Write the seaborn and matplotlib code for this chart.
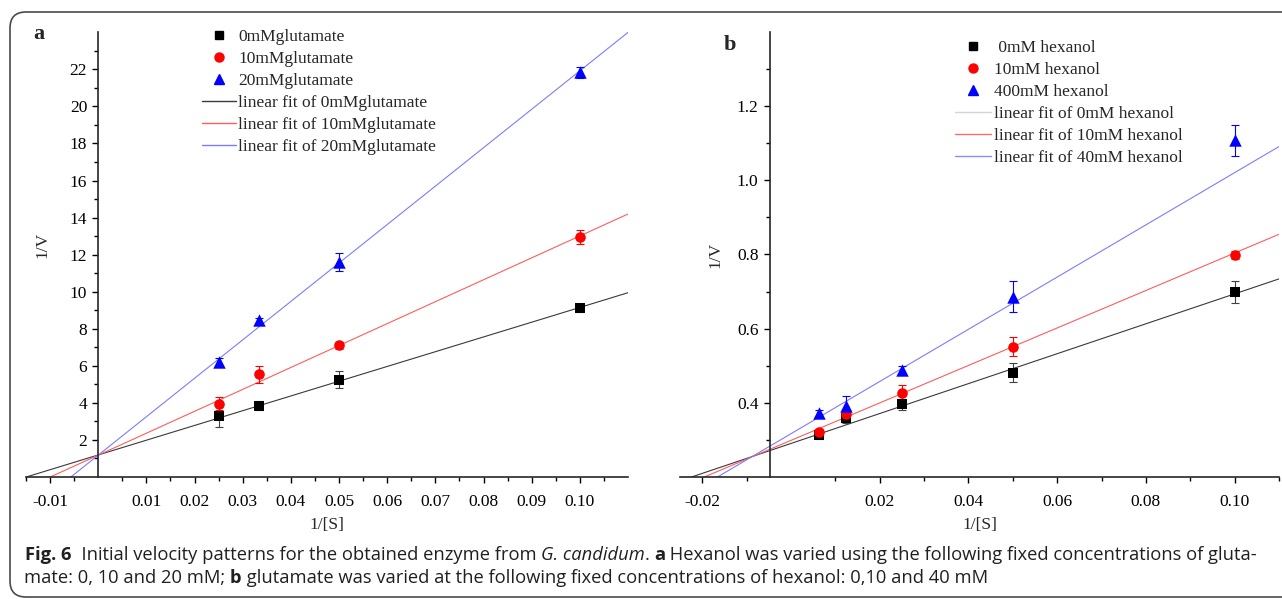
import numpy as np
import pandas as pd
import matplotlib
matplotlib.use("Agg")
import matplotlib.pyplot as plt
import seaborn as sns
from matplotlib.lines import Line2D
from matplotlib.patches import FancyBboxPatch
from matplotlib.transforms import IdentityTransform
from matplotlib.ticker import FixedLocator, FormatStrFormatter

# ---- data, panel a (glutamate fixed) ----
s_a = [0.025, 0.0333, 0.05, 0.10]
glu_names = ["0mMglutamate", "10mMglutamate", "20mMglutamate"]
glu_v = [[3.3, 3.85, 5.25, 9.1],
         [3.95, 5.55, 7.1, 12.95],
         [6.2, 8.45, 11.6, 21.85]]
glu_err = [[0.6, 0.25, 0.45, 0.2],
           [0.35, 0.45, 0.2, 0.4],
           [0.2, 0.15, 0.5, 0.3]]
glu_slope = [79.6, 118.3, 207.4]
glu_icpt = [1.19, 1.18, 1.18]
glu_fit_names = ["linear fit of 0mMglutamate", "linear fit of 10mMglutamate",
                 "linear fit of 20mMglutamate"]

# ---- data, panel b (hexanol fixed) ----
s_b = [0.00625, 0.0125, 0.025, 0.05, 0.10]
hex_names = [" 0mM hexanol", "10mM hexanol", "400mM hexanol"]
hex_v = [[0.313, 0.358, 0.396, 0.481, 0.699],
         [0.322, 0.369, 0.425, 0.551, 0.799],
         [0.371, 0.392, 0.488, 0.686, 1.108]]
hex_err = [[0.01, 0.012, 0.015, 0.025, 0.03],
           [0.008, 0.01, 0.022, 0.026, 0.01],
           [0.01, 0.025, 0.012, 0.042, 0.043]]
hex_slope = [4.04, 5.06, 7.05]
hex_icpt = [0.2897, 0.298, 0.316]
hex_fit_names = ["linear fit of 0mM hexanol", "linear fit of 10mM hexanol",
                 "linear fit of 40mM hexanol"]

a_xmajor = [-0.01, 0.01, 0.02, 0.03, 0.04, 0.05, 0.06, 0.07, 0.08, 0.09, 0.10]
a_ymajor = [2, 4, 6, 8, 10, 12, 14, 16, 18, 20, 22]
b_xmajor = [-0.02, 0.02, 0.04, 0.06, 0.08, 0.10]
b_ymajor = [0.4, 0.6, 0.8, 1.0, 1.2]

caption1 = [("Fig. 6", "bold", "normal"),
            ("  Initial velocity patterns for the obtained enzyme from ", "normal", "normal"),
            ("G. candidum", "normal", "italic"),
            (". ", "normal", "normal"),
            ("a", "bold", "normal"),
            (" Hexanol was varied using the following fixed concentrations of gluta-", "normal", "normal")]
caption2 = [("mate: 0, 10 and 20 mM; ", "normal", "normal"),
            ("b", "bold", "normal"),
            (" glutamate was varied at the following fixed concentrations of hexanol: 0,10 and 40 mM",
             "normal", "normal")]

# ---- styles ----
markers = ["s", "o", "^"]
msize = [55, 58, 80]
colors = ["black", "red", "blue"]
err_colors = ["#404040", "red", "blue"]
fit_colors = ["#3a3a3a", "#ff5c5c", "#7c7cff"]

sns.set_theme(style="ticks")
plt.rcParams["font.family"] = ["Liberation Serif", "DejaVu Serif"]
plt.rcParams["axes.linewidth"] = 1.2
FS = 12.5

W, H = 1282, 599
fig = plt.figure(figsize=(W / 100, H / 100), dpi=100)
ax_a = fig.add_axes([26 / W, 1 - 477 / H, 602 / W, 444.7 / H])
ax_b = fig.add_axes([680 / W, 1 - 476.7 / H, 599 / W, 444.4 / H])


def draw_panel(ax, xs, ys, errs, slopes, icpts, xlim, ylim):
    ax.set_xlim(xlim)
    ax.set_ylim(ylim)
    xx = np.linspace(xlim[0], xlim[1], 300)
    for i in range(3):
        ax.plot(xx, icpts[i] + slopes[i] * xx, color=fit_colors[i], lw=0.8, zorder=1)
    for i in range(3):
        ax.errorbar(xs, ys[i], yerr=errs[i], fmt="none", ecolor=err_colors[i],
                    elinewidth=0.8, capsize=3, capthick=0.8, zorder=2)
        df = pd.DataFrame({"x": xs, "y": ys[i]})
        sns.scatterplot(data=df, x="x", y="y", marker=markers[i], color=colors[i],
                        s=msize[i], linewidth=0, zorder=3, ax=ax, legend=False)
    ax.set_xlim(xlim)
    ax.set_ylim(ylim)
    ax.spines[["top", "right"]].set_visible(False)
    ax.tick_params(which="both", direction="out", width=1, colors="black", labelsize=FS)
    ax.tick_params(which="major", length=4.5)
    ax.tick_params(which="minor", length=3)
    ax.tick_params(axis="x", which="major", pad=8)
    ax.tick_params(axis="y", which="major", pad=3.5)
    ax.set_xlabel("1/[S]", fontsize=FS)
    ax.set_ylabel("1/V", fontsize=FS)


# panel a
draw_panel(ax_a, s_a, glu_v, glu_err, glu_slope, glu_icpt, (-0.015, 0.110), (0, 24))
ax_a.spines["left"].set_position(("data", 0))
ax_a.xaxis.set_major_locator(FixedLocator(a_xmajor))
ax_a.xaxis.set_minor_locator(FixedLocator(np.arange(-0.015, 0.11, 0.01)))
ax_a.xaxis.set_major_formatter(FormatStrFormatter("%.2f"))
ax_a.yaxis.set_major_locator(FixedLocator(a_ymajor))
ax_a.yaxis.set_minor_locator(FixedLocator(np.arange(1, 24, 2)))
ax_a.yaxis.set_major_formatter(FormatStrFormatter("%d"))
ax_a.yaxis.set_label_coords(0.040, 0.522)
ax_a.xaxis.set_label_coords(0.5, -0.09)

# panel b
draw_panel(ax_b, s_b, hex_v, hex_err, hex_slope, hex_icpt, (-0.025, 0.110), (0.2, 1.4))
ax_b.spines["left"].set_position(("data", -0.0048))
ax_b.xaxis.set_major_locator(FixedLocator(b_xmajor))
ax_b.xaxis.set_minor_locator(FixedLocator(np.arange(-0.01, 0.115, 0.02)))
ax_b.xaxis.set_major_formatter(FormatStrFormatter("%.2f"))
ax_b.yaxis.set_major_locator(FixedLocator(b_ymajor))
ax_b.yaxis.set_minor_locator(FixedLocator(np.arange(0.3, 1.35, 0.2)))
ax_b.yaxis.set_major_formatter(FormatStrFormatter("%.1f"))
ax_b.yaxis.set_label_coords(0.072, 0.5)
ax_b.xaxis.set_label_coords(0.5, -0.09)


def make_legend(ax, names, fit_names, line_cols, anchor, hl):
    handles = [Line2D([], [], marker=markers[i], linestyle="none", color=colors[i],
                      markersize=[6, 6.5, 7.5][i]) for i in range(3)]
    handles += [Line2D([], [], color=line_cols[i], lw=1.0) for i in range(3)]
    ax.legend(handles, names + fit_names, loc="upper left", bbox_to_anchor=anchor,
              bbox_transform=fig.transFigure, frameon=False, borderpad=0,
              borderaxespad=0, handlelength=hl, handletextpad=0.15,
              labelspacing=0.34, fontsize=FS)


make_legend(ax_a, glu_names, glu_fit_names, fit_colors,
            (202 / W, 1 - 29 / H), 1.95)
make_legend(ax_b, hex_names, hex_fit_names, ["#d4d4d4", "#ff6b6b", "#8a8aff"],
            (955 / W, 1 - 40 / H), 2.1)

# panel letters
fig.text(33 / W, 1 - 39 / H, "a", fontsize=16, fontweight="bold", va="baseline")
fig.text(724 / W, 1 - 50 / H, "b", fontsize=16, fontweight="bold", va="baseline")

# rounded frame around the figure
frame = FancyBboxPatch((10, 2), 1330, 585, boxstyle="round,pad=0,rounding_size=16",
                       transform=IdentityTransform(), facecolor="none",
                       edgecolor="#4a4a4a", lw=1.2)
fig.add_artist(frame)

# caption with mixed styles
renderer = fig.canvas.get_renderer()
cap_font = ["Open Sans", "DejaVu Sans"]


def text_w(s, size, weight, style):
    t = fig.text(0, 0, s, fontsize=size, fontweight=weight, fontstyle=style, family=cap_font)
    w = t.get_window_extent(renderer).width
    t.remove()
    return w


def piece_w(s, size, weight, style):
    return text_w("|" + s + "|", size, weight, style) - text_w("||", size, weight, style)


def line_w(pieces, size):
    return sum(piece_w(s, size, wt, st) for s, wt, st in pieces)


cap_size = 10 * 1237 / line_w(caption1, 10)


def draw_line(pieces, x0, y0, size):
    x = x0
    for s, wt, st in pieces:
        fig.text(x / W, 1 - y0 / H, s, fontsize=size, fontweight=wt, fontstyle=st,
                 family=cap_font, color="#231f20", va="baseline")
        x += piece_w(s, size, wt, st)


draw_line(caption1, 25, 560, cap_size)
draw_line(caption2, 24, 583, cap_size)

fig.savefig("out.png", dpi=100)
